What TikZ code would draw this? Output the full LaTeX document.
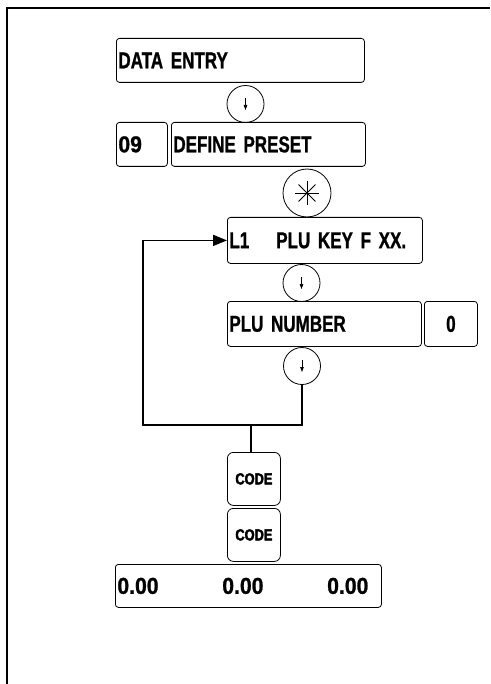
\documentclass[tikz,border=0pt]{standalone}
\usepackage{fontspec}
\usetikzlibrary{arrows.meta,calc}
\newfontfamily\lcdfont{Liberation Sans Bold}[FakeStretch=0.74,FakeBold=1]
\newfontfamily\numfont{Liberation Sans Bold}[FakeStretch=0.92,FakeBold=1]
\newfontfamily\keyfont{Liberation Sans Bold}[FakeStretch=0.8,FakeBold=2.5]

\begin{document}
\begin{tikzpicture}[x=1pt,y=-1pt,
    lcd/.style={draw,rounded corners=3pt,line width=0.8pt,anchor=north west,
      inner xsep=2pt,inner ysep=0pt,align=left,
      font=\lcdfont\fontsize{23}{25}\selectfont},
    digits/.style={font=\numfont\fontsize{23}{25}\selectfont},
    codekey/.style={draw,rounded corners=6pt,line width=0.8pt,anchor=north west,
      inner sep=0pt,minimum width=53pt,minimum height=53pt,
      font=\keyfont\fontsize{16}{18}\selectfont},
    key/.style={draw,circle,line width=0.8pt,inner sep=0pt,minimum size=37pt},
    link/.style={line width=1.6pt},
    keyarrow/.style={line width=0.7pt,-{Triangle[length=5pt,width=3.5pt]}}]
  \useasboundingbox (0,0) rectangle (490,684);
  % frame
  \draw[line width=2pt] (7,684) -- (7,8) -- (490,8);

  % displays
  \node[lcd,minimum width=248pt,minimum height=44pt,text width=244pt] (entry) at (116,38) {DATA ENTRY};
  \node[key] (c1) at (245.5,104) {};
  \node[lcd,digits,minimum width=51pt,minimum height=44pt,text width=47pt] (num) at (116,122) {09};
  \node[lcd,minimum width=194pt,minimum height=44pt,text width=190pt] (preset) at (171,122) {DEFINE PRESET};
  \node[key,minimum size=48pt] (star) at (307,193) {};
  \node[lcd,minimum width=195pt,minimum height=46pt,text width=191pt] (l1) at (227,217) {L1\hspace{27pt}PLU KEY F XX.};
  \node[key] (c2) at (301.5,283) {};
  \node[lcd,minimum width=194pt,minimum height=45pt,text width=190pt] (plu) at (227,301) {PLU NUMBER};
  \node[lcd,minimum width=53pt,minimum height=45pt,text width=49pt,align=center] (zero) at (424,301) {0};
  \node[key] (c3) at (302,366) {};
  \node[codekey] (code1) at (227,452) {CODE};
  \node[codekey] (code2) at (227,508) {CODE};
  \node[lcd,digits,minimum width=266pt,minimum height=43pt,text width=262pt] (disp) at (115,564)
    {\hbox to 251pt{0.00\hfill0.00\hfill0.00}};

  % keys
  \foreach \k in {c1,c2,c3}
    \draw[keyarrow] ($(\k.center)+(0,-6)$) -- ($(\k.center)+(0,6)$);
  \foreach \a in {0,45,90,135}
    \draw[line width=0.8pt] ($(star.center)+(\a:12)$) -- ($(star.center)+(\a+180:12)$);

  % loop back
  \coordinate (jr) at (302,425);
  \coordinate (jl) at (143,425);
  \coordinate (jc) at (251,425);
  \draw[link,-{Triangle[length=14pt,width=11pt]}] (c3.south) -- (jr) -- (jl) |- (l1.west);
  \draw[link] (jc) -- (jc |- code1.north);
\end{tikzpicture}
\end{document}
